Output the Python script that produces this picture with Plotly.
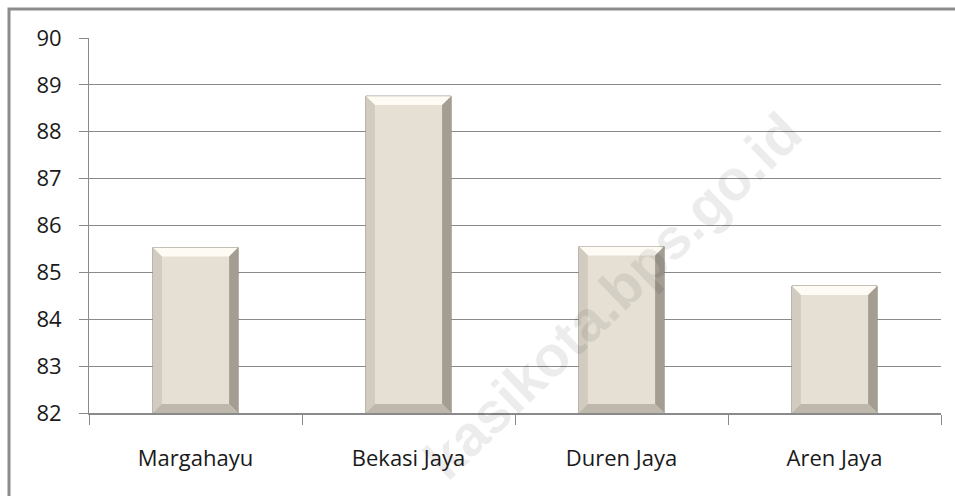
import plotly.graph_objects as go

# ---- data ----
categories = ["Margahayu", "Bekasi Jaya", "Duren Jaya", "Aren Jaya"]
values = [85.53, 88.76, 85.55, 84.71]
y_ticks = [82, 83, 84, 85, 86, 87, 88, 89, 90]
watermark = "kasikota.bps.go.id"

Y_MIN, Y_MAX = 82, 90
BAR_W = 0.4

W, H = 955, 496
ML, MR, MT, MB = 89, 14, 38, 83
plot_w = W - ML - MR
plot_h = H - MT - MB

fig = go.Figure()
fig.add_trace(go.Bar(
    x=categories, y=values, width=BAR_W,
    marker=dict(color="#e6e0d4", line=dict(color="#8a8479", width=1)),
    hoverinfo="x+y",
))

# bevel facets computed from the data values (category index = serial number)
px_x = 4.0 / plot_w
px_y = (Y_MAX - Y_MIN) / plot_h
dx = 9 * px_x
dy = 9 * px_y
h = BAR_W / 2
shapes = []
for i, v in enumerate(values):
    l, r, t, b = i - h, i + h, v, Y_MIN
    facets = [
        (f"M{l},{t} L{r},{t} L{r-dx},{t-dy} L{l+dx},{t-dy} Z", "#fdfbf3"),
        (f"M{l},{t} L{l+dx},{t-dy} L{l+dx},{b+dy} L{l},{b} Z", "#d2ccc0"),
        (f"M{r},{t} L{r-dx},{t-dy} L{r-dx},{b+dy} L{r},{b} Z", "#a39d92"),
        (f"M{l},{b} L{r},{b} L{r-dx},{b+dy} L{l+dx},{b+dy} Z", "#beb8ac"),
    ]
    for path, col in facets:
        shapes.append(dict(type="path", path=path, xref="x", yref="y",
                           fillcolor=col, line=dict(width=0), layer="above"))

# outer frame (top and left border visible)
shapes.append(dict(
    type="rect", xref="paper", yref="paper",
    x0=(9 - ML) / plot_w, x1=(W + 20 - ML) / plot_w,
    y0=(H - MB - 9) / plot_h, y1=(H - MB - (H + 20)) / plot_h,
    line=dict(color="#8c8c8c", width=3), fillcolor="rgba(0,0,0,0)",
    layer="above",
))

fig.update_layout(
    width=W, height=H,
    margin=dict(l=ML, r=MR, t=MT, b=MB, autoexpand=False),
    paper_bgcolor="white", plot_bgcolor="white",
    showlegend=False,
    shapes=shapes,
    font=dict(family="'Open Sans', Lato, sans-serif", size=22, color="#1a1a1a"),
    annotations=[dict(
        text=watermark, xref="paper", yref="paper",
        x=(612 - ML) / plot_w, y=(H - MB - 296) / plot_h,
        xanchor="center", yanchor="middle", showarrow=False,
        textangle=-44,
        font=dict(family="Liberation Sans, Arial, sans-serif", size=57,
                  color="rgba(0,0,0,0.075)", weight="bold"),
    )],
)

fig.update_xaxes(
    type="category", categoryorder="array", categoryarray=categories,
    range=[-0.5, 3.5], automargin=False,
    showline=True, linecolor="#8a8a8a", linewidth=2,
    ticks="outside", tickson="boundaries", ticklen=10, tickcolor="#8a8a8a",
    tickwidth=1, showgrid=False, ticklabelstandoff=25,
    tickfont=dict(size=22, color="#1a1a1a"),
)
fig.update_yaxes(
    range=[Y_MIN, Y_MAX], tickvals=y_ticks, automargin=False,
    showline=True, linecolor="#8a8a8a", linewidth=1,
    ticks="outside", ticklen=9, tickcolor="#8a8a8a",
    showgrid=True, gridcolor="#8a8a8a", gridwidth=1,
    zeroline=False, ticklabelstandoff=13,
    tickfont=dict(size=22, color="#1a1a1a"),
)

fig.write_html("out.html", config={"displayModeBar": False},
               post_script="document.body.style.margin='0';document.body.style.padding='0';")
